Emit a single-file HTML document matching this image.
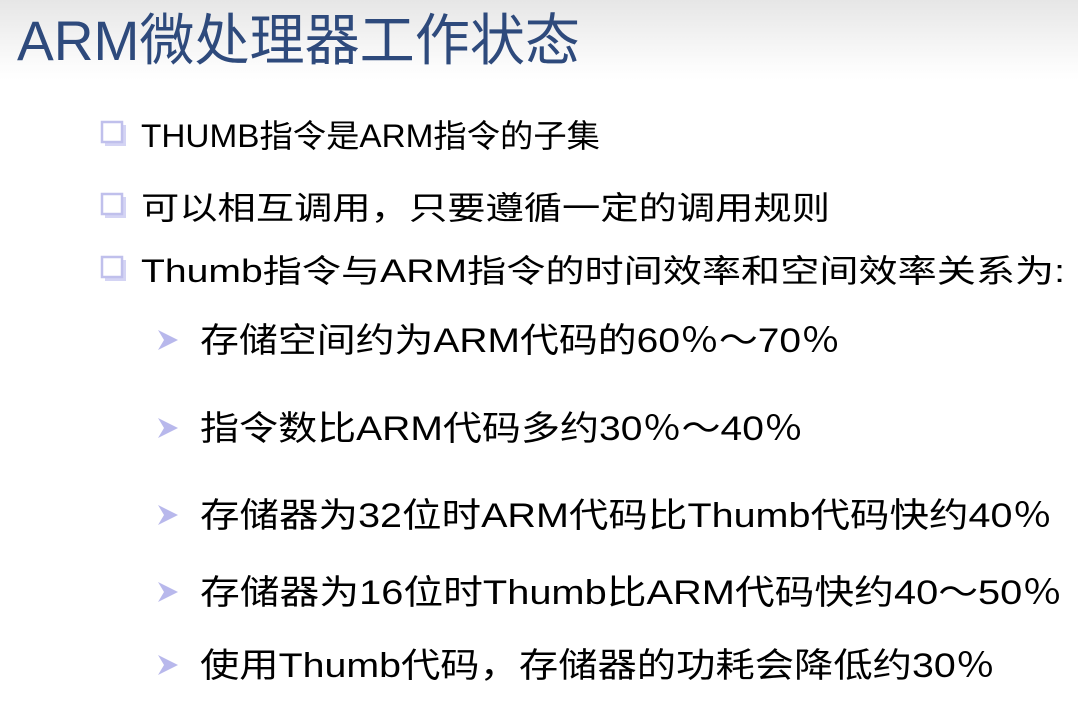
<!DOCTYPE html>
<html><head><meta charset="utf-8"><style>
html,body{margin:0;padding:0;background:#fff;}
#slide{position:relative;width:1078px;height:714px;overflow:hidden;background:linear-gradient(#e6e6e6 0px,#fafafa 60px,#fff 80px);}
svg{position:absolute;left:0;top:0;}
text{font-family:"Liberation Sans","Noto Sans CJK SC",sans-serif;}
</style></head><body>
<div id="slide">
<svg width="1078" height="714" viewBox="0 0 1078 714">
<defs>
<g id="sq"><rect x="4" y="4" width="21" height="21" fill="#d4d4f4"/><rect x="1" y="1" width="20" height="20" fill="#fff" stroke="#c0c0ec" stroke-width="2.5"/></g>
<g id="ar"><path d="M0,0 L20,10 L0,20 L6,10 Z" fill="#b8b8ec"/></g>
</defs>
<text x="17" y="60" font-size="56" fill="#2e4a7c" textLength="563" lengthAdjust="spacingAndGlyphs">ARM微处理器工作状态</text>

<g><use href="#sq" x="101" y="121"/>
<text x="141" y="147" font-size="32" fill="#000" textLength="459" lengthAdjust="spacingAndGlyphs">THUMB指令是ARM指令的子集</text></g>
<g><use href="#sq" x="101" y="193"/>
<text x="141" y="219" font-size="32" fill="#000" textLength="689" lengthAdjust="spacingAndGlyphs">可以相互调用，只要遵循一定的调用规则</text></g>
<g><use href="#sq" x="101" y="256"/>
<text x="141" y="282" font-size="32" fill="#000" textLength="924" lengthAdjust="spacingAndGlyphs">Thumb指令与ARM指令的时间效率和空间效率关系为:</text></g>

<g><use href="#ar" x="158" y="330"/>
<text x="200" y="352" font-size="34" fill="#000" textLength="640" lengthAdjust="spacingAndGlyphs">存储空间约为ARM代码的60％～70％</text></g>
<g><use href="#ar" x="158" y="418"/>
<text x="200" y="440" font-size="34" fill="#000" textLength="603" lengthAdjust="spacingAndGlyphs">指令数比ARM代码多约30％～40％</text></g>
<g><use href="#ar" x="158" y="505"/>
<text x="200" y="527" font-size="34" fill="#000" textLength="852" lengthAdjust="spacingAndGlyphs">存储器为32位时ARM代码比Thumb代码快约40％</text></g>
<g><use href="#ar" x="158" y="582"/>
<text x="200" y="604" font-size="34" fill="#000" textLength="862" lengthAdjust="spacingAndGlyphs">存储器为16位时Thumb比ARM代码快约40～50％</text></g>
<g><use href="#ar" x="158" y="655"/>
<text x="200" y="677" font-size="34" fill="#000" textLength="795" lengthAdjust="spacingAndGlyphs">使用Thumb代码，存储器的功耗会降低约30％</text></g>
</svg>
</div>
</body></html>
